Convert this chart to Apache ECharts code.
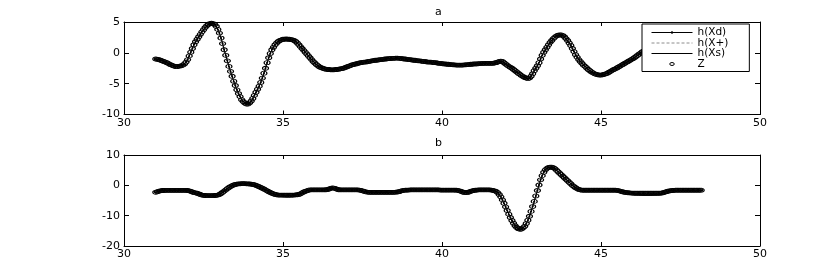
<!DOCTYPE html>
<html>
<head>
<meta charset="utf-8">
<script src="https://cdn.jsdelivr.net/npm/echarts@6/dist/echarts.min.js"></script>
<style>
html,body{margin:0;padding:0;background:#fff;}
#chart{width:831px;height:277px;}
</style>
</head>
<body>
<div id="chart"></div>
<script>
// sampling grid
const t0 = 31.0, dt = 0.05;
// axis ticks
const xTicks = [30, 35, 40, 45, 50];
const aTicks = [-10, -5, 0, 5];
const bTicks = [-20, -10, 0, 10];
const seriesNames = ['h(Xd)', 'h(X+)', 'h(Xs)', 'Z'];
const titles = ['a', 'b'];

// panel a: measured Z (and fitted h curves) from t=31.00 step 0.05
const aZ = [
 -1.0,-1.05,-1.1,-1.2,-1.3,-1.4,-1.5,-1.6,-1.75,-1.9,-2.0,-2.1,-2.2,-2.25,-2.2,-2.15,-2.1,-2.0,-1.8,-1.5,
 -1.1,-0.5,0.1,0.7,1.3,1.8,2.2,2.6,3.0,3.4,3.75,4.1,4.4,4.6,4.75,4.8,4.75,4.6,4.3,3.8,
 3.2,2.4,1.5,0.5,-0.4,-1.3,-2.2,-3.0,-3.8,-4.6,-5.3,-6.0,-6.6,-7.1,-7.6,-7.9,-8.15,-8.3,-8.3,-8.1,
 -7.8,-7.4,-6.9,-6.4,-5.9,-5.4,-4.8,-4.1,-3.3,-2.5,-1.6,-0.8,-0.1,0.5,0.9,1.3,1.6,1.85,2.0,2.1,
 2.2,2.2,2.25,2.2,2.2,2.15,2.1,2.0,1.85,1.6,1.3,1.0,0.7,0.4,0.1,-0.2,-0.5,-0.8,-1.1,-1.4,
 -1.65,-1.9,-2.1,-2.3,-2.4,-2.5,-2.6,-2.65,-2.7,-2.7,-2.75,-2.75,-2.75,-2.7,-2.7,-2.65,-2.6,-2.55,-2.5,-2.4,
 -2.3,-2.2,-2.1,-2.0,-1.9,-1.85,-1.8,-1.7,-1.65,-1.6,-1.55,-1.5,-1.5,-1.45,-1.4,-1.35,-1.3,-1.25,-1.2,-1.2,
 -1.15,-1.1,-1.1,-1.05,-1.0,-1.0,-0.95,-0.95,-0.9,-0.9,-0.9,-0.85,-0.85,-0.9,-0.9,-0.95,-1.0,-1.0,-1.05,-1.1,
 -1.1,-1.15,-1.2,-1.2,-1.25,-1.3,-1.3,-1.35,-1.4,-1.4,-1.45,-1.5,-1.5,-1.5,-1.55,-1.6,-1.6,-1.65,-1.7,-1.7,
 -1.75,-1.8,-1.8,-1.85,-1.85,-1.9,-1.9,-1.95,-1.95,-2.0,-2.0,-2.0,-2.0,-2.0,-1.95,-1.95,-1.9,-1.9,-1.85,-1.85,
 -1.8,-1.8,-1.8,-1.75,-1.75,-1.75,-1.7,-1.7,-1.7,-1.7,-1.7,-1.7,-1.7,-1.65,-1.6,-1.5,-1.4,-1.35,-1.4,-1.6,
 -1.8,-2.0,-2.2,-2.35,-2.5,-2.7,-2.9,-3.1,-3.3,-3.5,-3.7,-3.85,-4.0,-4.1,-4.15,-4.1,-3.8,-3.4,-2.9,-2.5,
 -2.1,-1.6,-1.0,-0.4,0.1,0.5,0.9,1.3,1.7,2.0,2.3,2.55,2.75,2.85,2.9,2.9,2.8,2.6,2.3,2.0,
 1.6,1.2,0.7,0.2,-0.3,-0.7,-1.1,-1.4,-1.7,-2.0,-2.2,-2.45,-2.7,-2.9,-3.1,-3.25,-3.4,-3.5,-3.55,-3.6,
 -3.6,-3.55,-3.5,-3.4,-3.3,-3.15,-3.0,-2.85,-2.7,-2.6,-2.45,-2.3,-2.15,-2.0,-1.85,-1.7,-1.55,-1.4,-1.25,-1.1,
 -0.95,-0.8,-0.6,-0.4,-0.2,0.0,0.2,0.3,0.4,0.5,0.55,0.6,0.6,0.6,0.55,0.5,0.45,0.4,0.35,0.3,
 0.3,0.25,0.2,0.2,0.15,0.1,0.1,0.05,0.0,0.0,-0.05,-0.1,-0.1,-0.15,-0.2,-0.2,-0.25,-0.3,-0.3,-0.35,
 -0.4,-0.4,-0.45,-0.5
];

// panel b: measured Z (and fitted h curves) from t=31.00 step 0.05
const bZ = [
 -2.3,-2.1,-1.9,-1.8,-1.7,-1.7,-1.65,-1.65,-1.65,-1.65,-1.65,-1.65,-1.65,-1.65,-1.65,-1.65,-1.65,-1.65,-1.65,-1.65,
 -1.7,-1.8,-2.0,-2.2,-2.4,-2.5,-2.6,-2.8,-3.0,-3.2,-3.3,-3.35,-3.4,-3.4,-3.4,-3.4,-3.4,-3.35,-3.3,-3.2,
 -3.0,-2.7,-2.3,-1.9,-1.5,-1.1,-0.7,-0.4,-0.1,0.1,0.3,0.4,0.5,0.5,0.55,0.55,0.55,0.5,0.5,0.45,
 0.4,0.3,0.2,0.0,-0.2,-0.45,-0.7,-0.95,-1.2,-1.5,-1.8,-2.1,-2.35,-2.6,-2.8,-3.0,-3.1,-3.2,-3.2,-3.2,
 -3.2,-3.25,-3.25,-3.25,-3.25,-3.25,-3.2,-3.2,-3.15,-3.1,-3.0,-2.8,-2.5,-2.2,-2.0,-1.8,-1.6,-1.5,-1.5,-1.5,
 -1.5,-1.5,-1.5,-1.5,-1.5,-1.5,-1.5,-1.45,-1.4,-1.2,-1.0,-0.85,-0.9,-1.1,-1.3,-1.45,-1.5,-1.5,-1.5,-1.5,
 -1.5,-1.5,-1.5,-1.5,-1.5,-1.5,-1.5,-1.5,-1.55,-1.65,-1.8,-2.0,-2.15,-2.25,-2.3,-2.3,-2.3,-2.3,-2.3,-2.3,
 -2.3,-2.3,-2.3,-2.3,-2.3,-2.3,-2.3,-2.3,-2.3,-2.3,-2.3,-2.25,-2.2,-2.1,-1.9,-1.75,-1.65,-1.6,-1.55,-1.55,
 -1.5,-1.5,-1.5,-1.5,-1.5,-1.5,-1.5,-1.5,-1.5,-1.5,-1.5,-1.5,-1.5,-1.5,-1.5,-1.5,-1.5,-1.5,-1.5,-1.55,
 -1.55,-1.55,-1.55,-1.55,-1.55,-1.55,-1.55,-1.55,-1.55,-1.6,-1.65,-1.8,-2.0,-2.2,-2.35,-2.4,-2.35,-2.2,-2.0,-1.8,
 -1.7,-1.6,-1.55,-1.5,-1.5,-1.5,-1.5,-1.5,-1.5,-1.5,-1.5,-1.55,-1.65,-1.8,-2.0,-2.4,-3.0,-3.8,-4.8,-5.9,
 -7.1,-8.3,-9.5,-10.6,-11.6,-12.5,-13.3,-13.9,-14.3,-14.5,-14.4,-14.0,-13.5,-12.6,-11.5,-10.2,-8.6,-7.0,-5.3,-3.5,
 -1.7,0.1,1.8,3.2,4.3,5.1,5.6,5.9,6.0,6.0,5.8,5.5,5.0,4.5,4.0,3.5,3.0,2.5,2.0,1.5,
 1.0,0.5,0.0,-0.4,-0.8,-1.1,-1.35,-1.5,-1.6,-1.6,-1.6,-1.6,-1.6,-1.6,-1.6,-1.6,-1.6,-1.6,-1.6,-1.6,
 -1.6,-1.6,-1.6,-1.6,-1.6,-1.6,-1.6,-1.6,-1.6,-1.6,-1.65,-1.75,-1.9,-2.05,-2.2,-2.3,-2.4,-2.45,-2.5,-2.55,
 -2.55,-2.6,-2.6,-2.6,-2.6,-2.6,-2.6,-2.6,-2.6,-2.6,-2.6,-2.6,-2.6,-2.6,-2.6,-2.6,-2.6,-2.6,-2.55,-2.45,
 -2.3,-2.1,-1.95,-1.85,-1.75,-1.7,-1.65,-1.6,-1.6,-1.6,-1.6,-1.6,-1.6,-1.6,-1.6,-1.6,-1.6,-1.6,-1.6,-1.6,
 -1.6,-1.6,-1.6,-1.6
];

// panel b: h(Xs) runs slightly lower between t=46.00 and t=46.95
const bXsDipStart = 46.0;
const bXsDip = [-2.7,-2.8,-2.9,-3.0,-3.1,-3.2,-3.25,-3.3,-3.3,-3.3,-3.3,-3.3,-3.25,-3.2,-3.15,-3.1,-3.0,-2.9,-2.75,-2.55];

// ---------- build ----------
const time = aZ.map((_, i) => +(t0 + i * dt).toFixed(2));
const pairs = (vals) => vals.map((v, i) => [time[i], v]);
const bXs = bZ.slice();
const dipIdx = Math.round((bXsDipStart - t0) / dt);
bXsDip.forEach((v, k) => { bXs[dipIdx + k] = v; });

const FONT = 'DejaVu Sans';
const axisCol = '#000';

function xAxes(gi) {
  const base = {
    type: 'value', gridIndex: gi, min: xTicks[0], max: xTicks[xTicks.length - 1], interval: 5,
    splitLine: { show: false },
    axisLine: { show: true, onZero: false, lineStyle: { color: axisCol, width: 1 } },
    axisTick: { show: true, inside: true, length: 4, lineStyle: { color: axisCol } }
  };
  return [
    Object.assign({}, base, { position: 'bottom',
      axisLabel: { show: true, margin: 3, color: '#000', fontFamily: FONT, fontSize: 11,
        showMinLabel: true, showMaxLabel: true } }),
    Object.assign({}, base, { position: 'top', axisLabel: { show: false } })
  ];
}
function yAxes(gi, ticks) {
  const base = {
    type: 'value', gridIndex: gi, min: ticks[0], max: ticks[ticks.length - 1],
    interval: ticks[1] - ticks[0],
    splitLine: { show: false },
    axisLine: { show: true, onZero: false, lineStyle: { color: axisCol, width: 1 } },
    axisTick: { show: true, inside: true, length: 5, lineStyle: { color: axisCol } }
  };
  return [
    Object.assign({}, base, { position: 'left',
      axisLabel: { show: true, margin: 4, color: '#000', fontFamily: FONT, fontSize: 11,
        showMinLabel: true, showMaxLabel: true } }),
    Object.assign({}, base, { position: 'right', axisLabel: { show: false } })
  ];
}

function panelSeries(gi, hd, hp, hs, z) {
  const xi = gi * 2, yi = gi * 2;
  return [
    { name: seriesNames[0], type: 'line', xAxisIndex: xi, yAxisIndex: yi, data: pairs(hd),
      symbol: 'circle', symbolSize: 2, showSymbol: true,
      lineStyle: { color: '#000', width: 1 }, itemStyle: { color: '#000' } },
    { name: seriesNames[1], type: 'line', xAxisIndex: xi, yAxisIndex: yi, data: pairs(hp),
      symbol: 'none', lineStyle: { color: '#8c8c8c', width: 1, type: [3, 2] }, itemStyle: { color: '#8c8c8c' } },
    { name: seriesNames[2], type: 'line', xAxisIndex: xi, yAxisIndex: yi, data: pairs(hs),
      symbol: 'none', lineStyle: { color: '#000', width: 1 }, itemStyle: { color: '#000' } },
    { name: seriesNames[3], type: 'scatter', xAxisIndex: xi, yAxisIndex: yi, data: pairs(z),
      symbol: 'circle', symbolSize: [6, 4],
      itemStyle: { color: 'rgba(0,0,0,0)', borderColor: '#000', borderWidth: 1, opacity: 1 } }
  ];
}

const chart = echarts.init(document.getElementById('chart'), null, { renderer: 'canvas' });
chart.setOption({
  animation: false,
  backgroundColor: '#fff',
  title: [
    { text: titles[0], left: 435, top: 7, padding: 0,
      textStyle: { fontFamily: FONT, fontSize: 11, fontWeight: 'normal', color: '#000' } },
    { text: titles[1], left: 435, top: 138, padding: 0,
      textStyle: { fontFamily: FONT, fontSize: 11, fontWeight: 'normal', color: '#000' } }
  ],
  grid: [
    { left: 124, right: 71, top: 22, height: 92.5, show: false },
    { left: 124, right: 71, top: 155, height: 91, show: false }
  ],
  xAxis: [].concat(xAxes(0), xAxes(1)),
  yAxis: [].concat(yAxes(0, aTicks), yAxes(1, bTicks)),
  legend: {
    orient: 'vertical', left: 642, top: 24,
    backgroundColor: '#fff', borderColor: '#000', borderWidth: 1, borderRadius: 0,
    padding: [3, 21, 2, 9], itemWidth: 41, itemHeight: 3, itemGap: -0.5,
    textStyle: { fontFamily: FONT, fontSize: 10.5, color: '#000', lineHeight: 9 },
    lineStyle: { width: 1 },
    itemStyle: { borderWidth: 0 },
    data: [
      { name: seriesNames[0], itemStyle: { color: '#000', borderWidth: 0 } },
      { name: seriesNames[1], itemStyle: { opacity: 0 }, lineStyle: { color: '#8c8c8c', width: 1, type: [3, 2] } },
      { name: seriesNames[2], itemStyle: { opacity: 0 }, lineStyle: { color: '#000', width: 1 } },
      { name: seriesNames[3], icon: 'path://M0,2a3,2 0 1,0 6,0a3,2 0 1,0 -6,0z',
        itemStyle: { color: '#fff', borderColor: '#000', borderWidth: 1 } }
    ]
  },
  series: [].concat(
    panelSeries(0, aZ, aZ, aZ, aZ),
    panelSeries(1, bZ, bZ, bXs, bZ)
  )
});
</script>
</body>
</html>
